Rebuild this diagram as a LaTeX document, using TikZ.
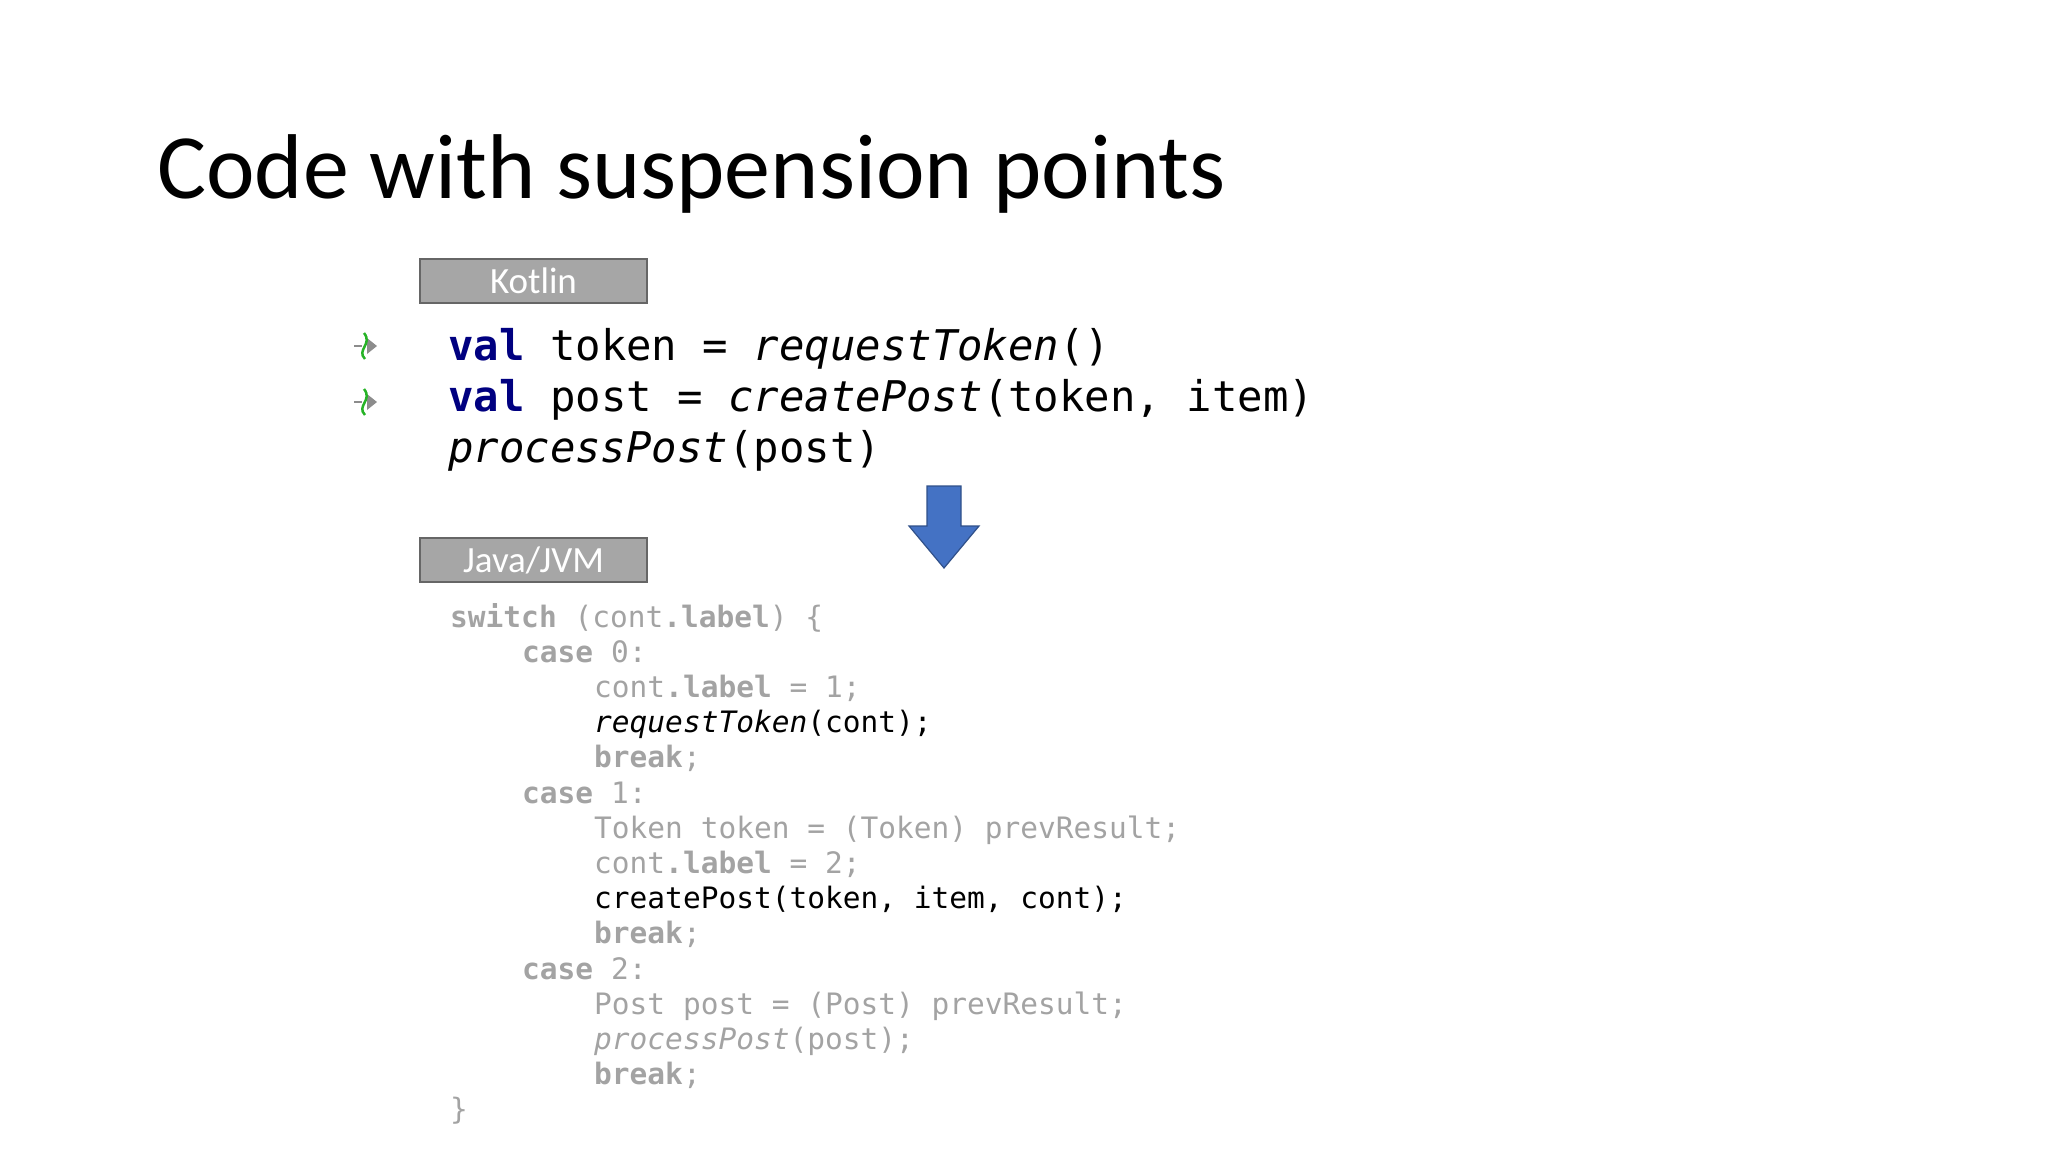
\documentclass[tikz,border=0pt]{standalone}
\usepackage{fontspec}
\setmainfont{Carlito}
\setmonofont{DejaVu Sans Mono}
\definecolor{kw}{HTML}{000080}
\definecolor{jg}{HTML}{A3A3A3}
\definecolor{boxg}{HTML}{A6A6A6}
\definecolor{arr}{HTML}{4472C4}
\begin{document}
\begin{tikzpicture}[x=1pt,y=-1pt,
  lang/.style={draw=black!60,line width=1.5pt,fill=boxg,text=white,minimum width=227pt,minimum height=44pt,inner sep=0pt,font=\fontsize{37}{37}\selectfont},
  kt/.style={anchor=base west,inner sep=0pt,font=\ttfamily\fontsize{42.3}{42.3}\selectfont},
  jv/.style={anchor=base west,inner sep=0pt,text=jg,font=\ttfamily\fontsize{29.5}{29.5}\selectfont}]
\useasboundingbox (0,0) rectangle (2048,1152);
\node[anchor=base west,inner sep=0pt,font=\fontsize{92}{92}\selectfont] (title) at (157,198) {Code with suspension points};
\node[lang] (kot) at (533.5,281) {Kotlin};
\node[kt] (k1) at (448,360) {\textbf{\color{kw}val} token = \textit{requestToken}()};
\node[kt] (k2) at (448,411) {\textbf{\color{kw}val} post = \textit{createPost}(token, item)};
\node[kt] (k3) at (448,462) {\textit{processPost}(post)};
\foreach \n/\y in {i1/346,i2/402}{
  \coordinate (\n) at (366,\y);
  \draw[black!45,line width=2pt] ([xshift=-12]\n) -- ([xshift=-4]\n);
  \fill[black!45] ([xshift=1,yshift=-8]\n) -- ([xshift=11]\n) -- ([xshift=1,yshift=8]\n) -- cycle;
  \draw[green!65!black!85,line width=2.5pt] ([xshift=-1,yshift=-13]\n) .. controls ([xshift=-10,yshift=-4]\n) and ([xshift=7,yshift=2]\n) .. ([xshift=-2,yshift=13]\n);
}
\filldraw[fill=arr,draw=arr!70!black,line width=1.2pt] (927,486) -- (961,486) -- (961,526) -- (979,526) -- (944,568) -- (909,526) -- (927,526) -- cycle;
\node[lang] (jav) at (533.5,560) {Java/JVM};
\def\B#1{\textbf{#1}}
\def\L{35.2}
\node[jv] (j1) at (450,627) {\B{switch} (cont\B{.label}) \{};
\node[jv] (j2) at (522,627+\L) {\B{case} 0:};
\node[jv] (j3) at (594,627+2*\L) {cont\B{.label} = 1;};
\node[jv,text=black] (j4) at (594,627+3*\L) {\textit{requestToken}(cont);};
\node[jv] (j5) at (594,627+4*\L) {\B{break};};
\node[jv] (j6) at (522,627+5*\L) {\B{case} 1:};
\node[jv] (j7) at (594,627+6*\L) {Token token = (Token) prevResult;};
\node[jv] (j8) at (594,627+7*\L) {cont\B{.label} = 2;};
\node[jv,text=black] (j9) at (594,627+8*\L) {createPost(token, item, cont);};
\node[jv] (j10) at (594,627+9*\L) {\B{break};};
\node[jv] (j11) at (522,627+10*\L) {\B{case} 2:};
\node[jv] (j12) at (594,627+11*\L) {Post post = (Post) prevResult;};
\node[jv] (j13) at (594,627+12*\L) {\textit{processPost}(post);};
\node[jv] (j14) at (594,627+13*\L) {\B{break};};
\node[jv] (j15) at (450,627+14*\L) {\}};
\end{tikzpicture}
\end{document}
